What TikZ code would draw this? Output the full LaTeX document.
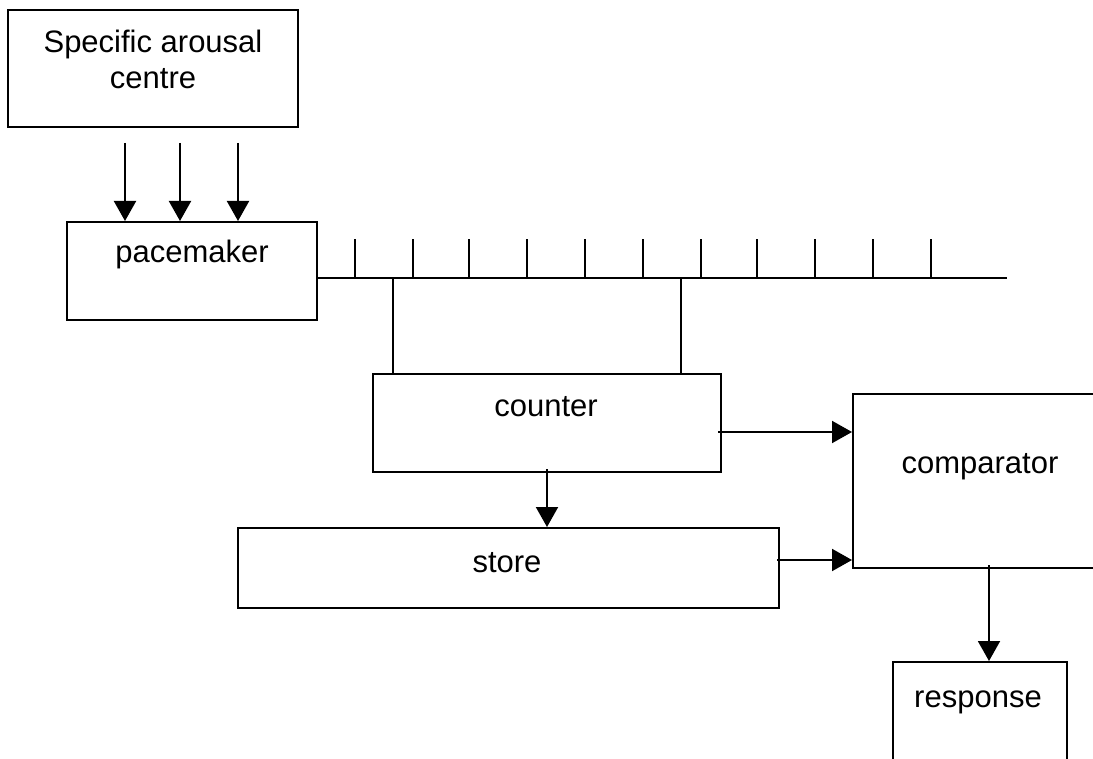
\documentclass[tikz,border=0pt]{standalone}
\usepackage{fontspec}
\setmainfont{Liberation Sans}
\usetikzlibrary{arrows.meta}
\begin{document}
\begin{tikzpicture}[x=1pt,y=-1pt,
  box/.style={draw=black,line width=2pt,rectangle,inner sep=0pt},
  txt/.style={anchor=base,inner sep=0pt,font=\fontsize{31}{37}\selectfont},
  ln/.style={line width=2pt},
  arr/.style={line width=2pt,-{Triangle[length=20pt,width=22pt]}}]
\useasboundingbox (0,0) rectangle (1093,759);
\clip (0,0) rectangle (1093,759);
\fill[white] (0,0) rectangle (1093,759);
% boxes
\node[box,minimum width=290pt,minimum height=117pt] (arousal) at (153,68.5) {};
\node[box,minimum width=250pt,minimum height=98pt] (pace) at (192,271) {};
\node[box,minimum width=348pt,minimum height=98pt] (counter) at (547,423) {};
\node[box,minimum width=541pt,minimum height=80pt] (store) at (508.5,568) {};
\node[box,minimum width=257pt,minimum height=174pt] (comp) at (981.5,481) {};
\node[box,minimum width=174pt,minimum height=158pt] (resp) at (980,741) {};
% texts
\node[txt] (tA1) at (153,53) {Specific arousal};
\node[txt] (tA2) at (153,89) {centre};
\node[txt] (tP) at (192,263) {pacemaker};
\node[txt] (tC) at (546,417) {counter};
\node[txt] (tS) at (507,572) {store};
\node[txt] (tM) at (980,473) {comparator};
\node[txt] (tR) at (978,707) {response};
% arousal -> pacemaker
\foreach \x/\n in {125/a1,180/a2,238/a3}{
  \coordinate (\n) at (\x,143);
  \draw[arr] (\n) -- (\n |- pace.north);
}
% bus line
\coordinate (busS) at (317,278);
\coordinate (busE) at (1007,278);
\draw[ln] (busS) -- (busE);
\foreach \x [count=\i] in {355,413,469,527,585,643,701,757,815,873,931}{
  \coordinate (tk\i) at (\x,278);
  \coordinate (tt\i) at (\x,239);
  \draw[ln] (tk\i) -- (tt\i);
}
% drops to counter
\coordinate (d1) at (393,278);
\coordinate (d2) at (681,278);
\draw[ln] (d1) -- (d1 |- counter.north);
\draw[ln] (d2) -- (d2 |- counter.north);
% counter -> comparator
\coordinate (c1) at (718,432);
\draw[arr] (c1) -- (c1 -| comp.west);
% counter -> store
\coordinate (c2) at (547,469);
\draw[arr] (c2) -- (c2 |- store.north);
% store -> comparator
\coordinate (s1) at (777,560);
\draw[arr] (s1) -- (s1 -| comp.west);
% comparator -> response
\coordinate (m1) at (989,565);
\draw[arr] (m1) -- (m1 |- resp.north);
\end{tikzpicture}
\end{document}
